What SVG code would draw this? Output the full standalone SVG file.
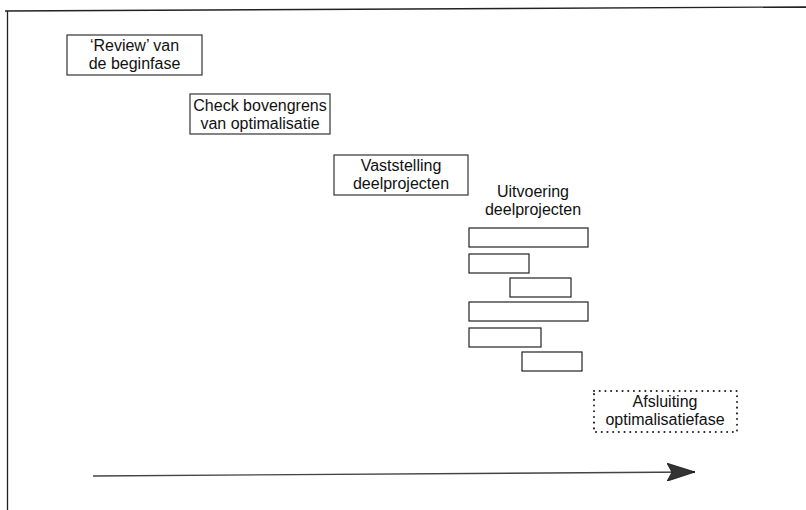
<svg xmlns="http://www.w3.org/2000/svg" width="806" height="510" viewBox="0 0 806 510">
<style>
.box{fill:#fff;stroke:#333;stroke-width:1.2}
.bar{fill:#fff;stroke:#222;stroke-width:1.2}
.dot{fill:#fff;stroke:#222;stroke-width:2;stroke-dasharray:0.1 5.6;stroke-linecap:round}
text{font-family:"Liberation Sans",Arial,sans-serif;font-size:16px;fill:#111}
.c{text-anchor:middle}
</style>
<defs>
<marker id="ah" markerWidth="30" markerHeight="18" refX="28" refY="9" orient="auto" markerUnits="userSpaceOnUse">
<path d="M0,0 L28,9 L0,18 L5,9 Z" fill="#333" stroke="#111" stroke-width="0.8"/>
</marker>
</defs>
<g id="frame" fill="none" stroke="#222" stroke-width="1.3">
<path d="M5,11 L806,7"/>
<path d="M7.5,11 L7.5,510"/>
</g>
<g id="review">
<rect class="box" x="67" y="35" width="135" height="40"/>
<text class="c" x="134.5" y="51">‘Review’ van</text>
<text class="c" x="134.5" y="69">de beginfase</text>
</g>
<g id="check">
<rect class="box" x="190" y="94" width="140" height="40"/>
<text class="c" x="260" y="111">Check bovengrens</text>
<text class="c" x="260" y="129">van optimalisatie</text>
</g>
<g id="vaststelling">
<rect class="box" x="334" y="155" width="134" height="40"/>
<text class="c" x="401" y="171">Vaststelling</text>
<text class="c" x="401" y="189">deelprojecten</text>
</g>
<g id="uitvoering">
<text class="c" x="533" y="197">Uitvoering</text>
<text class="c" x="533" y="215">deelprojecten</text>
<rect class="bar" x="469" y="228" width="119" height="19"/>
<rect class="bar" x="469" y="254" width="60" height="19"/>
<rect class="bar" x="510" y="278" width="61" height="19"/>
<rect class="bar" x="469" y="302" width="119" height="19"/>
<rect class="bar" x="469" y="328" width="72" height="19"/>
<rect class="bar" x="522" y="352" width="60" height="19"/>
</g>
<g id="afsluiting">
<rect class="dot" x="594" y="391" width="143" height="41"/>
<text class="c" x="665" y="407">Afsluiting</text>
<text class="c" x="665" y="425">optimalisatiefase</text>
</g>
<g id="connectors">
<path d="M93,476 L695,472" fill="none" stroke="#444" stroke-width="1.3" marker-end="url(#ah)"/>
</g>
</svg>
